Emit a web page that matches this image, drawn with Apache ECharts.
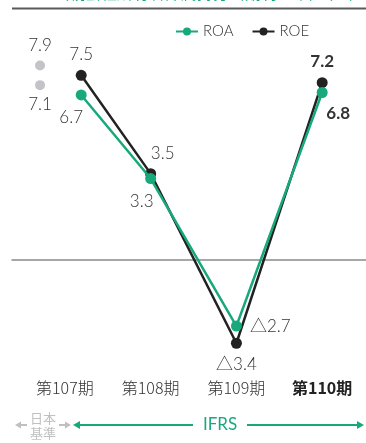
<!DOCTYPE html>
<html><head><meta charset="utf-8">
<script src="https://cdn.jsdelivr.net/npm/echarts@6/dist/echarts.min.js"></script>
<style>html,body{margin:0;padding:0;background:#fff}#c{width:366px;height:443px}</style>
</head><body><div id="c"></div>
<script>
const categories = ['第107期', '第108期', '第109期', '第110期'];
const periodPos = [0.19, 1, 2, 3];
const roa = [6.7, 3.3, -2.7, 6.8];
const roe = [7.5, 3.5, -3.4, 7.2];
const jgaapPos = -0.29;
const jgaapRoe = 7.9;
const jgaapRoa = 7.1;

const GREEN = '#17a97c';
const BLACK = '#222222';
const FONT = '"Noto Sans CJK JP", "Noto Sans", sans-serif';
const NUMFONT = 'Lato, "Noto Sans CJK JP", sans-serif';
const fmt = v => (v < 0 ? '△' + Math.abs(v) : String(v));

const roaLabels = [
  {position: 'bottom', offset: [-10, 3]},
  {position: 'bottom', offset: [-9, 3]},
  {position: 'right', offset: [2, 0]},
  {position: 'bottom', offset: [16, 1], fontWeight: 'bold'}
];
const roeLabels = [
  {position: 'top', offset: [0, -1]},
  {position: 'top', offset: [12, 0]},
  {position: 'bottom', offset: [0, 1]},
  {position: 'top', offset: [0, -1], fontWeight: 'bold'}
];

function lab(extra) {
  return Object.assign({show: true, fontSize: 17, color: '#333', fontFamily: NUMFONT, fontWeight: 300, distance: 6, opacity: 1}, extra);
}
function build(vals, pos, labs) {
  return vals.map((v, i) => ({
    value: [pos[i], v],
    label: lab(Object.assign({formatter: fmt(v)}, labs[i]))
  }));
}

const chart = echarts.init(document.getElementById('c'));
chart.setOption({
  animation: false,
  textStyle: {fontFamily: FONT},
  legend: {
    top: 19, left: 170, itemWidth: 22, itemHeight: 10, itemGap: 18,
    textStyle: {fontSize: 15, color: '#333', fontFamily: NUMFONT, fontWeight: 300},
    data: ['ROA', 'ROE']
  },
  grid: [
    {left: 12, right: 0, top: 63, bottom: 85},
    {left: 22, right: 1, top: 63, bottom: 85}
  ],
  xAxis: [
    {type: 'value', gridIndex: 0, min: -0.617, max: 3.511,
     axisLine: {show: true, onZero: true, lineStyle: {color: '#8a8a8a', width: 1.5}},
     axisTick: {show: false}, axisLabel: {show: false}, splitLine: {show: false}},
    {type: 'category', gridIndex: 1, data: categories, boundaryGap: true,
     axisLine: {show: false}, axisTick: {show: false}, splitLine: {show: false},
     axisLabel: {margin: 22, interval: 0, fontSize: 16, fontFamily: FONT,
       formatter: (v, i) => i === 3 ? '{b|' + v + '}' : '{n|' + v + '}',
       rich: {n: {fontSize: 16, color: '#333', fontFamily: FONT, fontWeight: 300}, b: {fontSize: 16, color: '#222', fontWeight: 'bold', fontFamily: FONT}}}}
  ],
  yAxis: [
    {type: 'value', gridIndex: 0, min: -4, max: 8, show: false},
    {type: 'value', gridIndex: 1, min: -4, max: 8, show: false}
  ],
  graphic: [
    {type: 'text', left: 53, top: -15, style: {text: '（親会社所有者帰属持分当期利益率）（％）', fill: GREEN, fontSize: 16, fontFamily: FONT}},
    {type: 'line', shape: {x1: 12, y1: 8.5, x2: 366, y2: 8.5}, style: {stroke: '#5a5a5a', lineWidth: 2}},
    {type: 'text', x: 43, y: 418, style: {text: '日本', fill: '#c0c0c0', fontSize: 13, fontFamily: FONT, align: 'center', verticalAlign: 'middle'}},
    {type: 'text', x: 43, y: 433, style: {text: '基準', fill: '#c0c0c0', fontSize: 13, fontFamily: FONT, align: 'center', verticalAlign: 'middle'}},
    {type: 'line', shape: {x1: 20, y1: 425, x2: 27, y2: 425}, style: {stroke: '#c0c0c0', lineWidth: 2}},
    {type: 'polygon', shape: {points: [[15, 425], [21, 421.5], [21, 428.5]]}, style: {fill: '#c0c0c0'}},
    {type: 'line', shape: {x1: 59, y1: 425, x2: 66, y2: 425}, style: {stroke: '#c0c0c0', lineWidth: 2}},
    {type: 'polygon', shape: {points: [[71, 425], [65, 421.5], [65, 428.5]]}, style: {fill: '#c0c0c0'}},
    {type: 'line', shape: {x1: 78, y1: 425, x2: 193, y2: 425}, style: {stroke: GREEN, lineWidth: 2}},
    {type: 'polygon', shape: {points: [[73, 425], [80, 421], [80, 429]]}, style: {fill: GREEN}},
    {type: 'text', x: 220, y: 425, style: {text: 'IFRS', fill: GREEN, fontSize: 17, fontFamily: NUMFONT, align: 'center', verticalAlign: 'middle'}},
    {type: 'line', shape: {x1: 247, y1: 425, x2: 359, y2: 425}, style: {stroke: GREEN, lineWidth: 2}},
    {type: 'polygon', shape: {points: [[364, 425], [357, 421], [357, 429]]}, style: {fill: GREEN}}
  ],
  series: [
    {name: 'ROA', type: 'line', xAxisIndex: 0, yAxisIndex: 0, data: build(roa, periodPos, roaLabels),
     color: GREEN, lineStyle: {width: 2.5, color: GREEN}, symbol: 'circle', symbolSize: 11,
     itemStyle: {color: GREEN}, z: 3},
    {name: 'ROE', type: 'line', xAxisIndex: 0, yAxisIndex: 0, data: build(roe, periodPos, roeLabels),
     color: BLACK, lineStyle: {width: 2.5, color: BLACK}, symbol: 'circle', symbolSize: 11,
     itemStyle: {color: BLACK}, z: 2},
    {name: 'J-GAAP', type: 'line', xAxisIndex: 0, yAxisIndex: 0, symbol: 'circle', symbolSize: 10,
     lineStyle: {width: 0, opacity: 0},
     itemStyle: {color: '#c4c4c8'},
     data: [
       {value: [jgaapPos, jgaapRoe], label: lab({position: 'top', formatter: fmt(jgaapRoe)})},
       {value: [jgaapPos, jgaapRoa], label: lab({position: 'bottom', formatter: fmt(jgaapRoa)})}
     ]}
  ]
});
</script></body></html>
